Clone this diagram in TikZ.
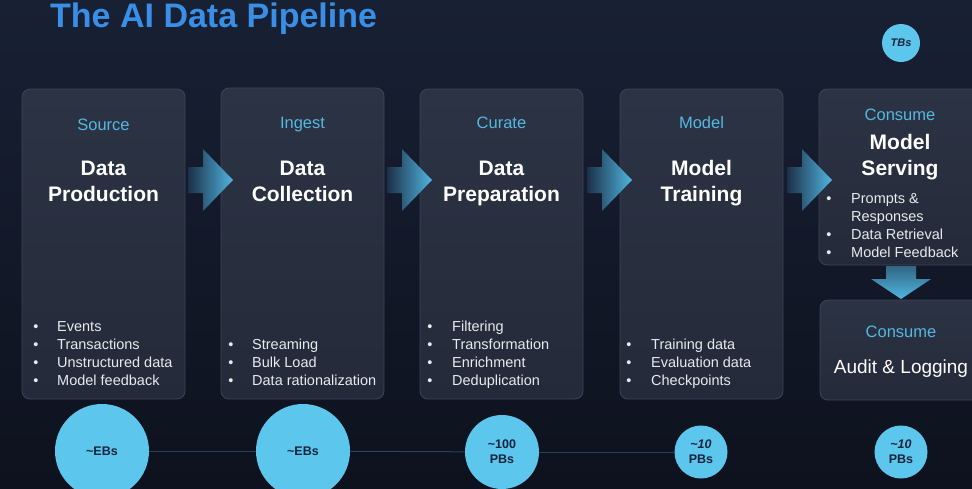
\documentclass[tikz,border=0pt]{standalone}
\usepackage{fontspec}
\setmainfont{Liberation Sans}
\usetikzlibrary{shadings}
\definecolor{bgtop}{RGB}{24,32,52}
\definecolor{bgbot}{RGB}{14,18,30}
\definecolor{boxtop}{RGB}{44,51,68}
\definecolor{boxbot}{RGB}{36,42,57}
\definecolor{boxline}{RGB}{60,68,86}
\definecolor{titleblue}{RGB}{57,142,230}
\definecolor{stagecyan}{RGB}{84,184,226}
\definecolor{arrowend}{RGB}{80,182,224}
\definecolor{arrowstart}{RGB}{28,48,72}
\definecolor{circfill}{RGB}{92,198,236}
\definecolor{circtext}{RGB}{22,36,62}
\definecolor{linkline}{RGB}{40,66,92}
\definecolor{bodytext}{RGB}{232,234,238}
\tikzset{
  stagebox/.style={draw=boxline, line width=0.8pt, rounded corners=8pt, top color=boxtop, bottom color=boxbot},
  stagelbl/.style={anchor=base, text=stagecyan, font=\fontsize{16.5}{18}\selectfont, inner sep=0pt},
  headlbl/.style={anchor=base, text=white, font=\fontsize{21}{26}\selectfont\bfseries, inner sep=0pt, align=center},
  bul/.style={anchor=base west, text=bodytext, font=\fontsize{14.5}{18}\selectfont, inner sep=0pt},
  dotmark/.style={anchor=base, text=bodytext, font=\fontsize{14.5}{18}\selectfont, inner sep=0pt},
  flowarrow/.style={left color=arrowstart, right color=arrowend, draw=none},
  downarrow/.style={top color=arrowstart!60!arrowend, bottom color=arrowend, draw=none},
  bubble/.style={circle, fill=circfill, text=circtext, inner sep=0pt, align=center, font=\bfseries},
  linkstyle/.style={draw=linkline, line width=1pt}
}
\begin{document}
\begin{tikzpicture}[x=1pt,y=-1pt]
\useasboundingbox (0,0) rectangle (972,488);
\shade[top color=bgtop, bottom color=bgbot] (0,0) rectangle (972,488);
% title
\node[anchor=base west, inner sep=0pt, text=titleblue, font=\fontsize{34}{40}\selectfont\bfseries] (title) at (50,27) {The AI Data Pipeline};
% boxes
\path[stagebox] (22,89) rectangle (185,399);
\path[stagebox] (221,88) rectangle (384,399);
\path[stagebox] (420,89) rectangle (583,399);
\path[stagebox] (620,89) rectangle (783,399);
\path[stagebox] (819,89) rectangle (985,265);
\path[stagebox] (820,300) rectangle (985,400);
% box 1
\node[stagelbl] (s1) at (103.5,130) {Source};
\node[headlbl] (h1a) at (103.5,175) {Data};
\node[headlbl] (h1b) at (103.5,201) {Production};
\foreach \t [count=\i] in {Events,Transactions,Unstructured data,Model feedback}{
  \node[dotmark] (d1l\i) at (36,{331+18*(\i-1)}) {\textbullet};
  \node[bul] (b1l\i) at (57,{331+18*(\i-1)}) {\t};
}
% box 2
\node[stagelbl] (s2) at (302.5,128) {Ingest};
\node[headlbl] (h2a) at (302.5,175) {Data};
\node[headlbl] (h2b) at (302.5,201) {Collection};
\foreach \t [count=\i] in {Streaming,Bulk Load,Data rationalization}{
  \node[dotmark] (d2l\i) at (231,{349+18*(\i-1)}) {\textbullet};
  \node[bul] (b2l\i) at (252,{349+18*(\i-1)}) {\t};
}
% box 3
\node[stagelbl] (s3) at (501.5,128) {Curate};
\node[headlbl] (h3a) at (501.5,175) {Data};
\node[headlbl] (h3b) at (501.5,201) {Preparation};
\foreach \t [count=\i] in {Filtering,Transformation,Enrichment,Deduplication}{
  \node[dotmark] (d3l\i) at (430,{331+18*(\i-1)}) {\textbullet};
  \node[bul] (b3l\i) at (452,{331+18*(\i-1)}) {\t};
}
% box 4
\node[stagelbl] (s4) at (701.5,128) {Model};
\node[headlbl] (h4a) at (701.5,175) {Model};
\node[headlbl] (h4b) at (701.5,201) {Training};
\foreach \t [count=\i] in {Training data,Evaluation data,Checkpoints}{
  \node[dotmark] (d4l\i) at (629,{349+18*(\i-1)}) {\textbullet};
  \node[bul] (b4l\i) at (651,{349+18*(\i-1)}) {\t};
}
% box 5
\node[stagelbl] (s5) at (900,120) {Consume};
\node[headlbl] (h5a) at (900,149) {Model};
\node[headlbl] (h5b) at (900,175) {Serving};
\node[dotmark] (d5l1) at (829,203) {\textbullet};
\node[bul] (b5l1) at (851,203) {Prompts \&};
\node[bul] (b5l2) at (851,221) {Responses};
\node[dotmark] (d5l3) at (829,239) {\textbullet};
\node[bul] (b5l3) at (851,239) {Data Retrieval};
\node[dotmark] (d5l4) at (829,257) {\textbullet};
\node[bul] (b5l4) at (851,257) {Model Feedback};
% box 6
\node[stagelbl] (s6) at (901,337) {Consume};
\node[anchor=base, inner sep=0pt, text=white, font=\fontsize{19}{22}\selectfont] (h6) at (901,373) {Audit \& Logging};
% flow arrows
\foreach \x in {188,387,587,787}{
  \path[flowarrow] (\x,167) -- (\x+15,167) -- (\x+15,149) -- (\x+45,180) -- (\x+15,211) -- (\x+15,193) -- (\x,193) -- cycle;
}
\path[downarrow] (886,266) -- (916,266) -- (916,279) -- (931,279) -- (901,299) -- (871,279) -- (886,279) -- cycle;
% bubbles
\node[bubble, minimum size=94pt, font=\fontsize{12.5}{14}\selectfont\bfseries] (c1) at (102,451) {\textasciitilde EBs};
\node[bubble, minimum size=94pt, font=\fontsize{12.5}{14}\selectfont\bfseries] (c2) at (303,451) {\textasciitilde EBs};
\node[bubble, minimum size=74pt, font=\fontsize{12.5}{15}\selectfont\bfseries] (c3) at (502,452) {\textasciitilde 100\\PBs};
\node[bubble, minimum size=53pt, font=\fontsize{12.5}{15}\selectfont\bfseries] (c4) at (701,452) {\textit{\textasciitilde 10}\\PBs};
\node[bubble, minimum size=53pt, font=\fontsize{12.5}{15}\selectfont\bfseries] (c5) at (901,452) {\textit{\textasciitilde 10}\\PBs};
\node[bubble, minimum size=38pt, font=\fontsize{11}{13}\selectfont\bfseries\itshape] (c6) at (901,43) {TBs};
\draw[linkstyle] (c1) -- (c2);
\draw[linkstyle] (c2) -- (c3);
\draw[linkstyle] (c3) -- (c4);
\end{tikzpicture}
\end{document}
